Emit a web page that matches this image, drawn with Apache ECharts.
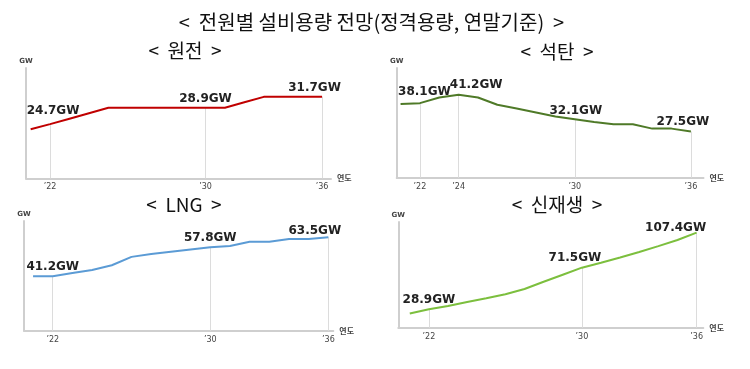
<!DOCTYPE html>
<html><head><meta charset="utf-8">
<script src="https://cdn.jsdelivr.net/npm/echarts@6/dist/echarts.min.js"></script>
<style>html,body{margin:0;padding:0;background:#fff}#c{width:750px;height:369px}</style>
</head><body><div id="c"></div>
<script>
// ---- data ----
const years = [2021,2022,2023,2024,2025,2026,2027,2028,2029,2030,2031,2032,2033,2034,2035,2036];
const nuclear = [23.4,24.7,26.1,27.5,28.9,28.9,28.9,28.9,28.9,28.9,28.9,30.3,31.7,31.7,31.7,31.7];
const coal    = [37.8,38.1,40.2,41.2,40.2,37.5,36.1,34.6,33.1,32.1,31.1,30.2,30.2,28.6,28.6,27.5];
const lng     = [41.2,41.2,43.1,44.8,47.5,52.3,53.9,55.2,56.5,57.8,58.5,60.9,60.9,62.5,62.5,63.5];
const renew   = [24.5,28.9,32.3,36.4,40.1,44.2,49.6,57.1,64.3,71.5,76.5,81.9,87.6,93.6,99.9,107.4];
const tickYears = [2022,2030,2036];
const coalTickYears = [2022,2024,2030,2036];
const nuclearLabelYears = [2022,2030,2036];
const coalLabelYears = [2022,2024,2030,2036];
const lngLabelYears = [2022,2030,2036];
const renewLabelYears = [2022,2030,2036];
const mainTitle = '<  전원별 설비용량 전망(정격용량, 연말기준)  >';
const panelTitles = ['<  원전  >','<  석탄  >','<  LNG  >','<  신재생  >'];

// ---- layout / style ----
const panels = [
  {vals:nuclear, lab:nuclearLabelYears, ticks:tickYears, color:'#c00000', grid:{left:26,top:68,width:305,height:110.3}, x:[2020.76,2036.46], y:[10.8,39.1],
   off:{2022:[3,-2],2030:[0,3],2036:[-7.5,3]}, title:[185,51]},
  {vals:coal, lab:coalLabelYears, ticks:coalTickYears, color:'#4f7a28', grid:{left:396.7,top:68,width:306.8,height:109.7}, x:[2020.8,2036.65], y:[10.3,51.2],
   off:{2022:[4.5,0],2024:[17.5,2],2030:[1,3],2036:[-8,2]}, title:[557,51.5]},
  {vals:lng, lab:lngLabelYears, ticks:tickYears, color:'#5b9bd5', grid:{left:24,top:221,width:309.3,height:109.7}, x:[2020.54,2036.25], y:[10.1,72.8],
   off:{2022:[0,2.5],2030:[0,2.5],2036:[-13.6,5]}, title:[184,205]},
  {vals:renew, lab:renewLabelYears, ticks:tickYears, color:'#7cbf3e', grid:{left:398.3,top:222,width:305,height:105.7}, x:[2020.4,2036.35], y:[10,118.3],
   off:{2022:[0,2],2030:[-7,2],2036:[-21,7]}, title:[557,205]}
];

const axisColor = '#cfcfcf';
const grids=[], xAxes=[], yAxes=[], series=[], graphics=[];
graphics.push({type:'text', x:371.5, y:22.5, style:{text:mainTitle, font:'20px "Noto Sans CJK KR"', fill:'#111', align:'center', verticalAlign:'middle'}});
panels.forEach((p,i)=>{
  grids.push(Object.assign({containLabel:false}, p.grid));
  xAxes.push({type:'value', gridIndex:i, min:p.x[0], max:p.x[1],
    axisLine:{show:true, lineStyle:{color:axisColor, width:2}}, axisTick:{show:false}, splitLine:{show:false},
    axisLabel:{customValues:p.ticks, margin:5, fontSize:8, color:'#444', fontFamily:'DejaVu Sans',
      formatter:v=>'\u2019'+String(Math.round(v)).slice(2)},
    name:'연도', nameLocation:'end', nameGap:6, nameTextStyle:{fontSize:8, color:'#444', fontFamily:'Noto Sans CJK KR', fontWeight:'bold'}});
  yAxes.push({type:'value', gridIndex:i, min:p.y[0], max:p.y[1],
    axisLine:{show:true, lineStyle:{color:axisColor, width:2}}, axisTick:{show:false}, axisLabel:{show:false}, splitLine:{show:false},
    name:'GW', nameLocation:'end', nameGap:3, nameTextStyle:{fontSize:7, color:'#444', fontFamily:'DejaVu Sans', fontWeight:'bold', align:'center'}});
  const data = years.map((yr,k)=>{
    const item = {value:[yr, p.vals[k]]};
    if (p.lab.includes(yr)) {
      const o = p.off[yr] || [0,0];
      item.label = {show:true, position:'top', distance:5, offset:o, formatter: p.vals[k].toFixed(1)+'GW',
        fontSize:12, fontWeight:'bold', fontFamily:'DejaVu Sans', color:'#222'};
    }
    return item;
  });
  const drops = p.lab.map(yr=>{
    const v = p.vals[years.indexOf(yr)];
    return [{coord:[yr, v]}, {coord:[yr, p.y[0]]}];
  });
  series.push({type:'line', xAxisIndex:i, yAxisIndex:i, data, symbol:'circle', symbolSize:1, showSymbol:true, showAllSymbol:true,
    itemStyle:{color:'rgba(0,0,0,0)', borderWidth:0}, silent:true, animation:false,
    lineStyle:{color:p.color, width:2}, z:3,
    markLine:{silent:true, symbol:'none', animation:false, label:{show:false}, lineStyle:{color:'#dcdcdc', width:1, type:'solid'}, data:drops, z:1}});
  graphics.push({type:'text', x:p.title[0], y:p.title[1], style:{text:panelTitles[i], font:'19px "Noto Sans CJK KR"', fill:'#111', align:'center', verticalAlign:'middle'}});
});

const chart = echarts.init(document.getElementById('c'), null, {renderer:'canvas'});
chart.setOption({animation:false, grid:grids, xAxis:xAxes, yAxis:yAxes, series, graphic:graphics});
</script></body></html>
